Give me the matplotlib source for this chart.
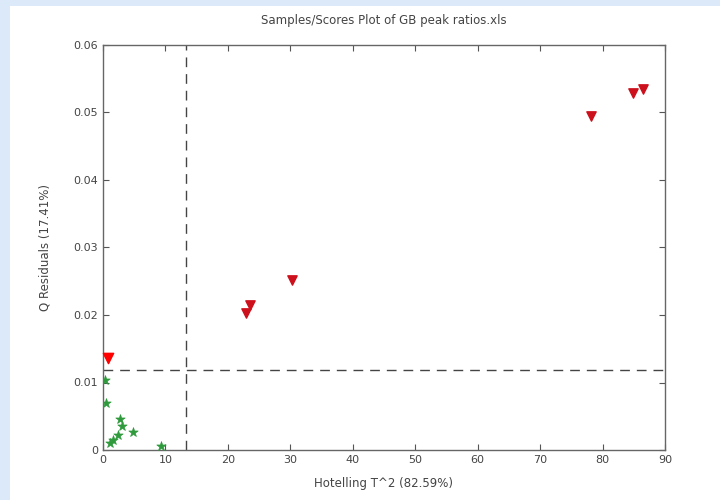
import matplotlib
matplotlib.use("Agg")
import matplotlib.pyplot as plt
from matplotlib.patches import Rectangle

# Data
red_t2 = [0.8, 22.9, 23.5, 30.3, 78.2, 84.9, 86.5]
red_q = [0.0136, 0.0203, 0.0215, 0.0252, 0.0495, 0.0529, 0.0535]
green_t2 = [0.3, 0.5, 2.8, 3.0, 4.8, 2.4, 1.6, 1.1, 9.3]
green_q = [0.0104, 0.0069, 0.0046, 0.0035, 0.0027, 0.0022, 0.0015, 0.0010, 0.0006]
t2_limit = 13.3
q_limit = 0.0119
xticks = [0, 10, 20, 30, 40, 50, 60, 70, 80, 90]
yticks = [0, 0.01, 0.02, 0.03, 0.04, 0.05, 0.06]
ytick_labels = ["0", "0.01", "0.02", "0.03", "0.04", "0.05", "0.06"]

plt.rcParams['font.family'] = ['DejaVu Sans']
fig = plt.figure(figsize=(7.2, 5.0), dpi=100, facecolor='#dce9f8')
fig.patches.append(Rectangle((10/720, 0), 1, 1 - 6/500, transform=fig.transFigure,
                             facecolor='white', edgecolor='none', zorder=-5))

ax = fig.add_axes([103/720, 50/500, 562/720, 405/500])
ax.set_facecolor('white')

ax.axvline(t2_limit, color='#444444', linestyle=(0, (7, 5)), linewidth=1.0, zorder=1)
ax.axhline(q_limit, color='#444444', linestyle=(0, (7, 5)), linewidth=1.0, zorder=1)

ax.scatter(green_t2, green_q, marker='*', s=50, color='#2e9a3c', linewidths=0.5, zorder=3)
ax.scatter(red_t2[:1], red_q[:1], marker='v', s=55, color='#ff0000', zorder=4, clip_on=False)
ax.scatter(red_t2[1:], red_q[1:], marker='v', s=45, color='#cc101c', zorder=4)

ax.set_xlim(0, 90)
ax.set_ylim(0, 0.06)
ax.set_xticks(xticks)
ax.set_yticks(yticks)
ax.set_yticklabels(ytick_labels)
ax.tick_params(direction='in', length=4, width=0.8, colors='#555555', labelsize=8,
               top=True, right=True, labelcolor='#444444')
for s in ax.spines.values():
    s.set_color('#666666')
    s.set_linewidth(1.0)

ax.set_title('Samples/Scores Plot of GB peak ratios.xls', fontsize=8.5, color='#444444', pad=15)
ax.set_xlabel('Hotelling T^2 (82.59%)', fontsize=8.5, color='#444444', labelpad=9)
ax.set_ylabel('Q Residuals (17.41%)', fontsize=8.5, color='#444444', labelpad=16)

fig.savefig('out.png', dpi=100, facecolor=fig.get_facecolor())
